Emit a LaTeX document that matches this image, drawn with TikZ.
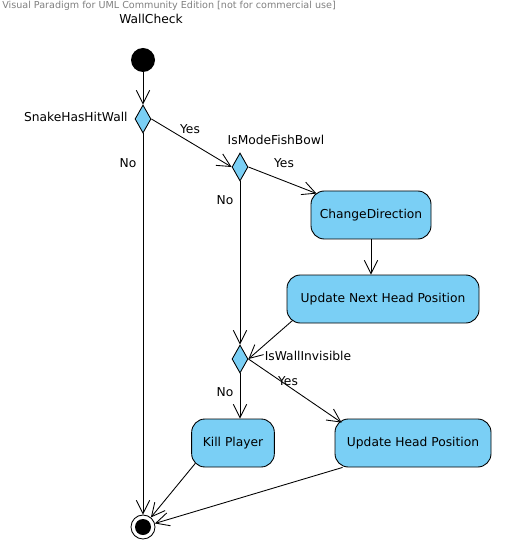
\documentclass[tikz,border=0pt]{standalone}
\usepackage{fontspec}
\setmainfont{DejaVu Sans}
\usetikzlibrary{shapes.geometric,arrows.meta}
\definecolor{actblue}{RGB}{122,207,245}
\begin{document}
\begin{tikzpicture}[x=0.75pt,y=-0.75pt,line width=0.65pt,
  action/.style={draw,fill=actblue,rounded corners=10pt,minimum height=36pt,font=\fontsize{9.2}{11}\selectfont},
  decision/.style={draw,fill=actblue,diamond,inner sep=0pt,minimum width=12pt,minimum height=21pt},
  flow/.style={-{Straight Barb[length=10pt,width=10pt]}},
  lbl/.style={font=\fontsize{9.2}{11}\selectfont,inner sep=0pt}]
\useasboundingbox (0,0) rectangle (511,559);
\node[font=\fontsize{7.2}{8}\selectfont,text=gray,inner sep=0pt] (vp) at (169,6) {Visual Paradigm for UML Community Edition [not for commercial use]};
\node[lbl] (title) at (151,19) {WallCheck};
\node[circle,fill=black,minimum size=18pt,inner sep=0pt] (start) at (143,60) {};
\node[decision] (hitwall) at (143,119) {};
\node[decision] (fishbowl) at (240,167) {};
\node[action,minimum width=90pt] (changedir) at (371,215) {ChangeDirection};
\node[action,minimum width=144pt] (nexthead) at (383,299) {Update Next Head Position};
\node[decision] (invisible) at (240,359) {};
\node[action,minimum width=62pt] (kill) at (233,443) {Kill Player};
\node[action,minimum width=117pt] (headpos) at (413,443) {Update Head Position};
\node[circle,draw,fill=white,minimum size=18pt,inner sep=0pt] (final) at (143,527) {};
\fill (final) circle [radius=6pt];
\node[lbl,anchor=east] (hitwalllbl) at (128,117) {SnakeHasHitWall};
\node[lbl] (yes1) at (190,129) {Yes};
\node[lbl] (no1) at (128,163) {No};
\node[lbl] (fishbowllbl) at (276,140) {IsModeFishBowl};
\node[lbl] (yes2) at (284,163) {Yes};
\node[lbl] (no2) at (225,200) {No};
\node[lbl] (invisiblelbl) at (308,356) {IsWallInvisible};
\node[lbl] (yes3) at (288,381) {Yes};
\node[lbl] (no3) at (225,392) {No};
\draw[flow] (start) -- (hitwall.north);
\draw[flow] (hitwall.east) -- (fishbowl.west);
\draw[flow] (hitwall.south) -- (final);
\draw[flow] (fishbowl.east) -- ([shift={(6,3)}]changedir.north west);
\draw[flow] (fishbowl.south) -- (invisible.north);
\draw[flow] (changedir.south) -- (changedir.south |- nexthead.north);
\draw[flow] ([shift={(6,-3)}]nexthead.south west) -- (invisible.east);
\draw[flow] (invisible.south) -- (invisible.south |- kill.north);
\draw[flow] (invisible.east) -- ([shift={(7,4)}]headpos.north west);
\draw[flow] ([shift={(4,-4)}]kill.south west) -- (final);
\draw[flow] ([shift={(8,0)}]headpos.south west) -- (final);
\end{tikzpicture}
\end{document}
